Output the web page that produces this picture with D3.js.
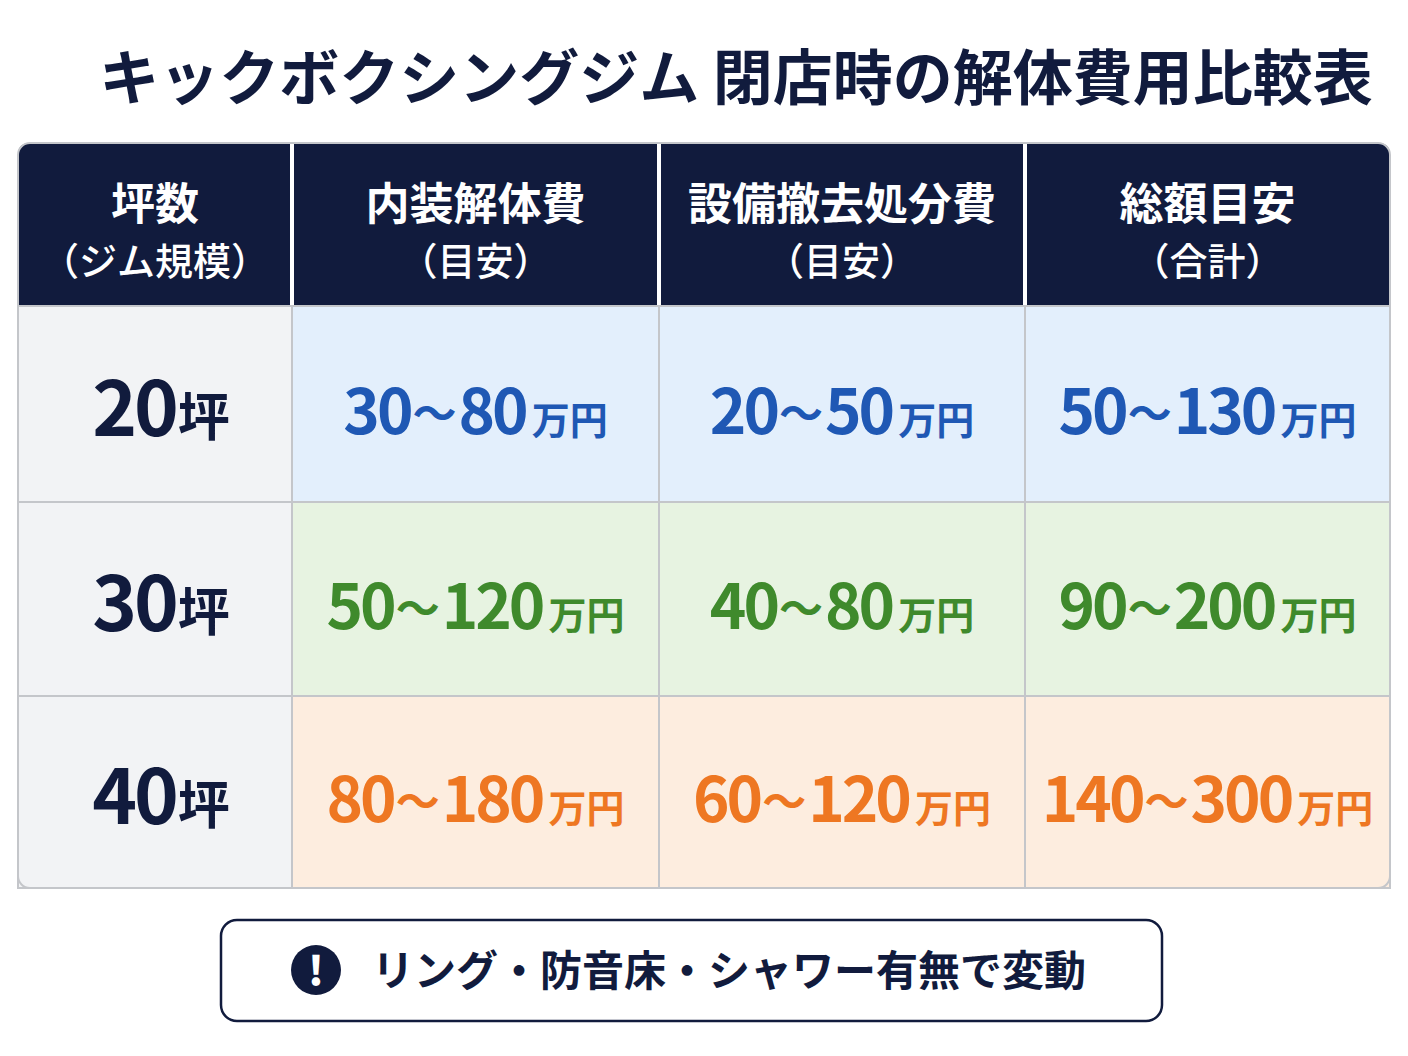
<!DOCTYPE html>
<html><head><meta charset="utf-8">
<script src="https://cdn.jsdelivr.net/npm/d3@7/dist/d3.min.js"></script>
<style>body{margin:0;background:#fff}text{font-family:"Noto Sans CJK JP","Noto Sans",sans-serif}</style>
</head><body><svg id="c" width="1408" height="1056"></svg>
<script>
const title = "キックボクシングジム 閉店時の解体費用比較表";
const headers = [["坪数","（ジム規模）"],["内装解体費","（目安）"],["設備撤去処分費","（目安）"],["総額目安","（合計）"]];
const sizes = ["20","30","40"];
const interior = [[30,80],[50,120],[80,180]];
const equipment = [[20,50],[40,80],[60,120]];
const total = [[50,130],[90,200],[140,300]];
const note = "リング・防音床・シャワー有無で変動";

const svg = d3.select("#c");
const navy = "#111b3d";
const fills = ["#e3effc","#e7f3e1","#fdeddf"];
const inks = ["#1f58b4","#3f8a2c","#ee7722"];
const xs = d3.scaleOrdinal().domain([0,1,2,3,4]).range([18,292,659,1025,1390]);
const ys = d3.scaleOrdinal().domain([0,1,2,3]).range([306,502,696,888]);

svg.append("text").attr("x",736).attr("y",100).attr("text-anchor","middle")
  .attr("font-size",60).attr("font-weight",700).attr("fill",navy).text(title);

svg.append("path").attr("fill",navy)
  .attr("d","M18,306 V155 Q18,143 30,143 H1378 Q1390,143 1390,155 V306 Z");
headers.forEach((h,i)=>{
  const cx=(xs(i)+xs(i+1))/2;
  svg.append("text").attr("x",cx).attr("y",220).attr("text-anchor","middle").attr("font-size",44).attr("font-weight",700).attr("fill","#fff").text(h[0]);
  svg.append("text").attr("x",cx).attr("y",275).attr("text-anchor","middle").attr("font-size",38).attr("font-weight",500).attr("fill","#fff").text(h[1]);
  if(i>0) svg.append("line").attr("x1",xs(i)).attr("x2",xs(i)).attr("y1",143).attr("y2",306).attr("stroke","#fff").attr("stroke-width",4);
});

const cols=[interior,equipment,total];
sizes.forEach((s,r)=>{
  const y0=ys(r), y1=ys(r+1), cy=(y0+y1)/2+32;
  svg.append("rect").attr("x",xs(0)).attr("y",y0).attr("width",xs(1)-xs(0)).attr("height",y1-y0).attr("fill","#f2f3f5").attr("stroke","#c4c6ca").attr("stroke-width",2);
  const t=svg.append("text").attr("x",(xs(0)+xs(1))/2+6).attr("y",cy).attr("text-anchor","middle").attr("fill",navy).attr("font-weight",700);
  t.append("tspan").attr("font-size",76).attr("letter-spacing",-3).text(s);
  t.append("tspan").attr("font-size",52).attr("dx",2).text("坪");
  cols.forEach((c,j)=>{
    svg.append("rect").attr("x",xs(j+1)).attr("y",y0).attr("width",xs(j+2)-xs(j+1)).attr("height",y1-y0).attr("fill",fills[r]).attr("stroke","#c4c6ca").attr("stroke-width",2);
    const tt=svg.append("text").attr("x",(xs(j+1)+xs(j+2))/2).attr("y",cy-2).attr("text-anchor","middle").attr("fill",inks[r]).attr("font-weight",700);
    tt.append("tspan").attr("font-size",62).attr("letter-spacing",-3).text(c[r][0]);
    tt.append("tspan").attr("font-size",44).attr("dx",2).attr("dy",-4).text("～");
    tt.append("tspan").attr("font-size",62).attr("letter-spacing",-3).attr("dx",2).attr("dy",4).text(c[r][1]);
    tt.append("tspan").attr("font-size",38).attr("dx",6).text("万円");
  });
});
svg.append("rect").attr("x",18).attr("y",143).attr("width",1372).attr("height",745).attr("rx",12).attr("fill","none").attr("stroke","#c4c6ca").attr("stroke-width",2);

svg.append("rect").attr("x",221).attr("y",920).attr("width",941).attr("height",101).attr("rx",16).attr("fill","#fff").attr("stroke",navy).attr("stroke-width",2.5);
svg.append("circle").attr("cx",316).attr("cy",970).attr("r",25).attr("fill",navy);
svg.append("text").attr("x",316).attr("y",985).attr("text-anchor","middle").attr("font-size",40).attr("font-weight",900).attr("fill","#fff").text("!");
svg.append("text").attr("x",372).attr("y",986).attr("font-size",42).attr("font-weight",700).attr("fill",navy).text(note);
</script></body></html>
